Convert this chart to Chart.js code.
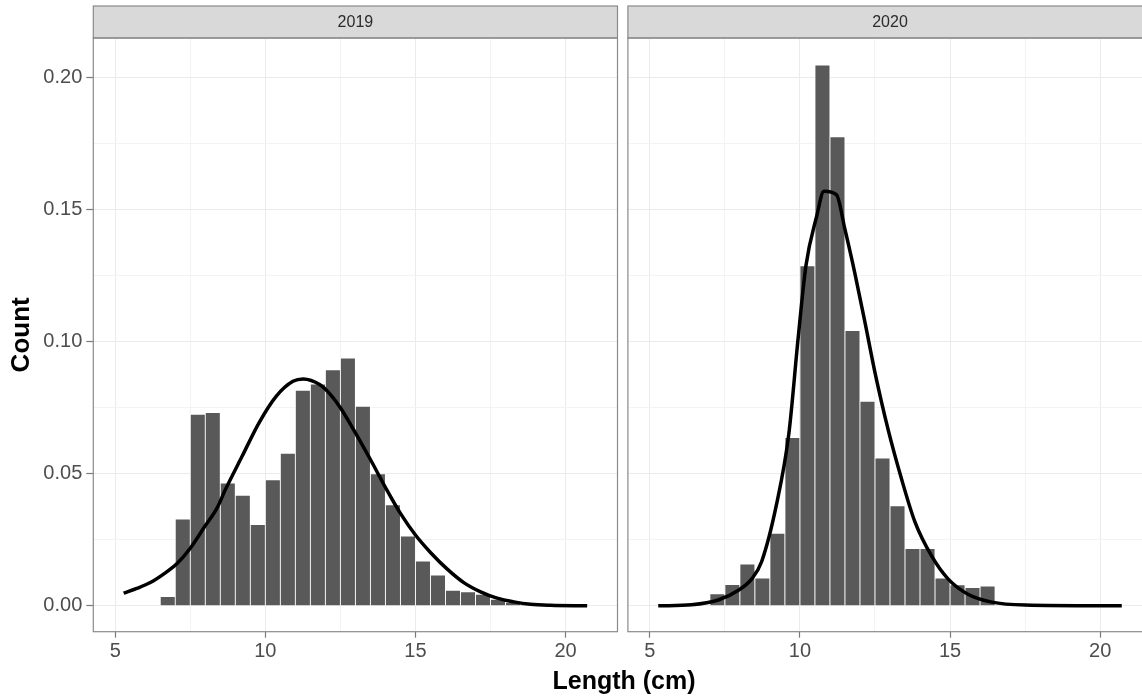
<!DOCTYPE html>
<html>
<head>
<meta charset="utf-8">
<script src="https://cdn.jsdelivr.net/npm/chart.js@4.4.0/dist/chart.umd.min.js"></script>
<style>
	html, body { margin: 0; padding: 0; background: #fff; overflow: hidden; width: 1142px; height: 696px; }
	#wrap { position: relative; width: 1142px; height: 696px; overflow: hidden; }
	canvas { position: absolute; top: 0; }
	#c2019 { left: 0; }
	#c2020 { left: 620px; }
	#xtitle {
		position: absolute; left: 0; width: 1248px; top: 665px; text-align: center;
		font: bold 25px "Liberation Sans", Arial, sans-serif; line-height: 30px; color: #000;
	}
</style>
</head>
<body>
<div id="wrap">
	<canvas id="c2019" width="620" height="696"></canvas>
	<canvas id="c2020" width="540" height="696"></canvas>
	<div id="xtitle">Length (cm)</div>
</div>
<script>
// Histogram bins (centre of each 0.5 cm bin) and proportion per bin
const bins2019 = [6.75, 7.25, 7.75, 8.25, 8.75, 9.25, 9.75, 10.25, 10.75, 11.25, 11.75, 12.25, 12.75,
	13.25, 13.75, 14.25, 14.75, 15.25, 15.75, 16.25, 16.75, 17.25, 17.75, 18.25, 18.75];
const props2019 = [0.0035, 0.0329, 0.0725, 0.0732, 0.0465, 0.0419, 0.0308, 0.0477, 0.0578, 0.0816, 0.0840, 0.0894, 0.0938,
	0.0756, 0.0500, 0.0383, 0.0264, 0.0170, 0.0117, 0.0059, 0.0053, 0.0044, 0.0025, 0.0013, 0.0006];

const bins2020 = [7.25, 7.75, 8.25, 8.75, 9.25, 9.75, 10.25, 10.75, 11.25, 11.75, 12.25, 12.75,
	13.25, 13.75, 14.25, 14.75, 15.25, 15.75, 16.25];
const props2020 = [0.0046, 0.0081, 0.0158, 0.0105, 0.0275, 0.0637, 0.1288, 0.2048, 0.1776, 0.1042, 0.0774, 0.0560,
	0.0379, 0.0217, 0.0217, 0.0105, 0.0080, 0.0069, 0.0075];

// Fitted curves
const fitX2019 = [5.28, 5.72, 6.17, 6.61, 7.06, 7.50, 7.98, 8.39, 8.67, 9.23, 9.79, 10.36, 10.92, 11.26, 11.82, 12.17, 12.50,
	13.00, 13.50, 14.06, 14.50, 15.00, 15.50, 16.06, 16.61, 17.17, 17.72, 18.28, 18.83, 19.50, 20.72];
const fitY2019 = [0.0048, 0.0066, 0.0088, 0.0120, 0.0160, 0.0218, 0.0300, 0.0370, 0.0440, 0.0567, 0.0693, 0.0793, 0.0850, 0.0859, 0.0837, 0.0800, 0.0750,
	0.0655, 0.0554, 0.0436, 0.0350, 0.0268, 0.0202, 0.0139, 0.0088, 0.0053, 0.0029, 0.0015, 0.0006, 0.0002, 0.0000];

const fitX2020 = [5.28, 6.39, 7.28, 7.94, 8.39, 8.72, 9.22, 9.63, 9.94, 10.20, 10.56, 10.80, 11.22, 11.50, 11.83,
	12.17, 12.50, 12.94, 13.39, 13.83, 14.39, 14.94, 15.61, 16.39, 17.50, 20.72];
const fitY2020 = [0.0000, 0.0004, 0.0022, 0.0058, 0.0101, 0.0166, 0.0384, 0.0651, 0.1013, 0.1288, 0.1476, 0.1570, 0.1556, 0.1425, 0.1259,
	0.1071, 0.0883, 0.0666, 0.0478, 0.0318, 0.0188, 0.0101, 0.0043, 0.0014, 0.0003, 0.0000];

const xTicks = [5, 7.5, 10, 12.5, 15, 17.5, 20];
const xLabels = ['5', '', '10', '', '15', '', '20'];
const yTicks = [0, 0.025, 0.05, 0.075, 0.1, 0.125, 0.15, 0.175, 0.2];
const yLabels = ['0.00', '', '0.05', '', '0.10', '', '0.15', '', '0.20'];

const FONT = '"Liberation Sans", Arial, sans-serif';
const STRIP_TOP = 6;

// facet strip + panel border (drawn last, like ggplot's panel.border)
const facetFrame = {
	id: 'facetFrame',
	afterDraw(chart, args, opts) {
		const { ctx, chartArea: a } = chart;
		ctx.save();
		ctx.fillStyle = '#d9d9d9';
		ctx.fillRect(a.left, STRIP_TOP, a.right - a.left, a.top - STRIP_TOP);
		ctx.strokeStyle = '#8a8a8a';
		ctx.lineWidth = 1.2;
		ctx.strokeRect(a.left, STRIP_TOP, a.right - a.left, a.top - STRIP_TOP);
		ctx.strokeRect(a.left, a.top, a.right - a.left, a.bottom - a.top);
		ctx.fillStyle = '#2b2b2b';
		ctx.font = '16px ' + FONT;
		ctx.textAlign = 'center';
		ctx.textBaseline = 'middle';
		ctx.fillText(opts.label, (a.left + a.right) / 2, (STRIP_TOP + a.top) / 2 + 1);
		ctx.restore();
	}
};

function gridColor(labels) {
	return (c) => (labels[c.index] ? '#ebebeb' : '#f3f3f3');
}
function tickColor(labels) {
	return (c) => (labels[c.index] ? '#7a7a7a' : 'rgba(0,0,0,0)');
}

function makePanel(id, label, bins, props, fitX, fitY, o) {
	return new Chart(document.getElementById(id), {
		type: 'bar',
		data: {
			datasets: [
				{
					type: 'line',
					data: fitX.map((x, i) => ({ x, y: fitY[i] })),
					borderColor: '#000',
					borderWidth: 3.5,
					pointRadius: 0,
					tension: 0.4,
					cubicInterpolationMode: o.cubic,
					order: 0
				},
				{
					type: 'bar',
					data: bins.map((x, i) => ({ x, y: props[i] })),
					backgroundColor: '#595959',
					borderColor: '#fff',
					borderWidth: 0.8,
					barPercentage: 1,
					categoryPercentage: 1,
					order: 1
				}
			]
		},
		options: {
			responsive: false,
			animation: false,
			events: [],
			layout: { padding: { top: 38, right: o.padRight, left: 0, bottom: 0 } },
			plugins: { legend: { display: false }, tooltip: { enabled: false }, facetFrame: { label } },
			scales: {
				x: {
					type: 'linear',
					offset: false,
					min: 4.27,
					max: 21.73,
					afterBuildTicks: (s) => { s.ticks = xTicks.map((v) => ({ value: v })); },
					afterFit: (s) => { s.height = 64.3; },
					border: { display: false },
					grid: { offset: false, color: gridColor(xLabels), lineWidth: 1, tickColor: tickColor(xLabels), tickLength: 6, tickWidth: 1.2 },
					ticks: {
						callback: (v, i) => xLabels[i],
						autoSkip: false, maxRotation: 0, padding: 2,
						color: '#4d4d4d', font: { family: FONT, size: 20 }
					}
				},
				y: {
					min: -0.0098,
					max: 0.215,
					afterBuildTicks: (s) => { s.ticks = yTicks.map((v) => ({ value: v })); },
					afterFit: (s) => { s.width = o.yWidth; },
					border: { display: false },
					grid: { color: gridColor(yLabels), lineWidth: 1, drawTicks: o.showY, tickColor: tickColor(yLabels), tickLength: 7, tickWidth: 1.2 },
					ticks: {
						display: o.showY,
						callback: (v, i) => yLabels[i],
						autoSkip: false, padding: 4,
						color: '#4d4d4d', font: { family: FONT, size: 20 }
					},
					title: {
						display: o.showY,
						text: 'Count',
						color: '#000',
						font: { family: FONT, size: 26, weight: 'bold' },
						padding: { top: 6, bottom: 0 }
					}
				}
			}
		},
		plugins: [facetFrame]
	});
}

makePanel('c2019', '2019', bins2019, props2019, fitX2019, fitY2019,
	{ yWidth: 93.3, padRight: 2.5, showY: true, cubic: 'monotone' });
makePanel('c2020', '2020', bins2020, props2020, fitX2020, fitY2020,
	{ yWidth: 7.9, padRight: 7.9, showY: false, cubic: 'monotone' });
</script>
</body>
</html>
